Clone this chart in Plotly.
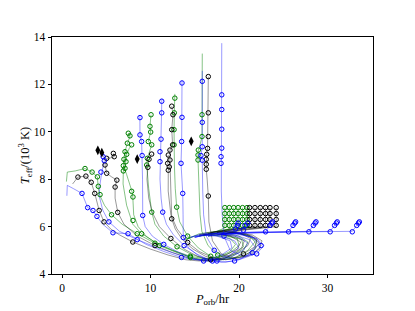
import plotly.graph_objects as go

# ---------------- data ----------------
# Green tracks
g1_P = [0.5, 0.6, 1.5, 2.6, 3.4, 4.0, 4.1, 4.3, 4.8, 5.6, 6.8, 8.5, 10.5, 12.5, 14.5, 16.0, 17.5, 19.0, 19.6, 19.0, 17.0, 15.0, 14.0, 15.5, 17.5, 18.4, 18.4]
g1_T = [7.9, 8.3, 8.35, 8.45, 8.3, 8.1, 7.6, 7.3, 6.9, 6.5, 6.1, 5.7, 5.3, 5.0, 4.75, 4.65, 4.7, 4.95, 5.25, 5.5, 5.65, 5.6, 5.45, 5.7, 5.8, 5.95, 6.8]
g1_mP = [2.6, 3.4, 4.0, 4.1, 4.3, 5.6, 8.5, 10.5, 14.5, 18.4, 18.4, 18.4, 18.4]
g1_mT = [8.45, 8.3, 8.1, 7.7, 7.35, 6.5, 5.7, 5.3, 4.75, 6.05, 6.3, 6.55, 6.8]

g2_P = [7.5, 7.7, 7.4, 7.1, 7.0, 6.95, 7.3, 7.9, 8.0, 8.1, 8.6, 9.5, 11.0, 13.0, 15.0, 16.5, 18.0, 19.5, 20.5, 20.3, 18.5, 16.5, 15.5, 17.5, 18.9, 18.9]
g2_T = [9.94, 9.83, 9.52, 9.16, 8.84, 8.57, 8.2, 7.49, 7.25, 6.5, 6.0, 5.6, 5.2, 4.9, 4.65, 4.55, 4.6, 4.85, 5.15, 5.45, 5.65, 5.7, 5.6, 5.75, 5.9, 6.8]
g2_mP = [7.49, 7.68, 7.38, 7.12, 7.0, 6.93, 7.87, 8.02, 8.02, 11.0, 18.9, 18.9, 18.9, 18.9]
g2_mT = [9.94, 9.83, 9.52, 9.16, 8.84, 8.57, 7.49, 7.25, 6.26, 5.2, 6.05, 6.3, 6.55, 6.8]

g3_P = [7.87, 7.6, 7.31, 7.23, 7.12, 6.93, 6.9, 7.3, 8.0, 9.0, 10.5, 12.5, 14.5, 16.0, 17.5, 19.0, 20.0, 19.8, 18.0, 16.5, 18.0, 19.4, 19.4]
g3_T = [9.45, 9.3, 9.05, 8.74, 8.46, 8.35, 7.8, 6.9, 6.1, 5.7, 5.35, 5.0, 4.7, 4.6, 4.65, 4.9, 5.2, 5.5, 5.65, 5.6, 5.8, 5.95, 6.8]
g3_mP = [7.87, 7.31, 7.23, 7.12, 6.93, 9.0, 14.5, 19.4, 19.4, 19.4, 19.4]
g3_mT = [9.45, 9.05, 8.74, 8.46, 8.35, 5.7, 4.7, 6.05, 6.3, 6.55, 6.8]

g4_P = [10.06, 9.94, 10.02, 9.75, 10.14, 9.9, 9.64, 9.57, 9.8, 10.14, 10.5, 11.5, 13.0, 14.5, 16.0, 17.5, 19.0, 20.5, 21.0, 20.0, 18.0, 16.5, 18.0, 19.9, 19.9]
g4_T = [10.72, 10.23, 9.99, 9.59, 9.45, 9.2, 8.88, 8.6, 7.6, 6.61, 6.1, 5.6, 5.15, 4.85, 4.65, 4.6, 4.7, 5.0, 5.35, 5.6, 5.75, 5.7, 5.85, 5.95, 6.8]
g4_mP = [10.06, 9.94, 10.02, 9.75, 10.14, 9.64, 9.57, 10.14, 13.0, 19.9, 19.9, 19.9, 19.9]
g4_mT = [10.72, 10.23, 9.99, 9.59, 9.45, 8.88, 8.6, 6.61, 5.15, 6.05, 6.3, 6.55, 6.8]

g5_P = [12.75, 12.75, 12.69, 12.66, 12.66, 12.7, 12.8, 12.96, 13.3, 14.2, 15.4, 16.8, 18.2, 19.7, 21.0, 21.8, 21.2, 19.5, 17.8, 19.0, 20.4, 20.4]
g5_T = [11.6, 11.42, 10.8, 10.09, 9.45, 8.6, 7.6, 6.82, 6.2, 5.6, 5.1, 4.75, 4.6, 4.7, 5.0, 5.35, 5.6, 5.75, 5.7, 5.85, 5.95, 6.8]
g5_mP = [12.75, 12.69, 12.66, 12.66, 12.96, 14.2, 16.8, 20.4, 20.4, 20.4, 20.4]
g5_mT = [11.42, 10.8, 10.09, 9.45, 6.82, 5.6, 4.75, 6.05, 6.3, 6.55, 6.8]

g6_P = [15.85, 15.82, 15.82, 15.6, 15.4, 15.37, 15.37, 15.5, 15.6, 15.8, 16.5, 17.6, 19.0, 20.5, 21.8, 22.0, 20.8, 19.0, 18.5, 20.0, 20.9, 20.9]
g6_T = [13.3, 10.72, 9.8, 9.45, 9.23, 9.02, 8.81, 7.5, 6.5, 5.8, 5.2, 4.8, 4.65, 4.75, 5.05, 5.4, 5.65, 5.75, 5.7, 5.85, 5.95, 6.8]
g6_mP = [15.82, 15.82, 15.4, 15.37, 15.37, 17.6, 20.9, 20.9, 20.9, 20.9]
g6_mT = [10.72, 9.8, 9.23, 9.02, 8.81, 4.8, 6.05, 6.3, 6.55, 6.8]

# Black tracks
k1_P = [1.2, 1.8, 2.7, 3.3, 3.7, 4.2, 4.75, 5.5, 6.5, 8.0, 10.0, 12.0, 14.0, 15.5, 17.0, 18.5, 19.8, 20.2, 19.0, 17.0, 15.5, 16.5, 19.0, 21.2, 21.2]
k1_T = [7.8, 8.09, 8.13, 7.87, 7.4, 6.68, 6.2, 5.9, 5.65, 5.35, 5.05, 4.8, 4.6, 4.55, 4.6, 4.8, 5.05, 5.35, 5.6, 5.7, 5.65, 5.75, 5.85, 6.0, 6.8]
k1_mP = [1.8, 2.7, 3.3, 3.7, 4.2, 4.75, 8.0, 21.2, 21.2, 21.2, 21.2]
k1_mT = [8.09, 8.13, 7.87, 7.4, 6.68, 6.2, 5.35, 6.05, 6.3, 6.55, 6.8]

k2_P = [5.8, 5.9, 5.5, 5.05, 4.86, 5.05, 5.6, 6.2, 6.0, 6.0, 6.3, 7.0, 8.5, 10.5, 12.5, 14.5, 16.0, 17.5, 19.0, 20.3, 20.6, 19.5, 17.5, 16.0, 17.5, 20.0, 21.8, 21.8]
k2_T = [9.09, 8.95, 8.9, 8.88, 8.6, 8.25, 8.1, 7.96, 7.67, 7.2, 6.6, 6.1, 5.6, 5.2, 4.9, 4.65, 4.55, 4.6, 4.8, 5.1, 5.4, 5.6, 5.7, 5.65, 5.8, 5.9, 6.0, 6.8]
k2_mP = [5.8, 5.9, 5.05, 4.86, 5.05, 6.2, 6.0, 6.3, 10.5, 21.8, 21.8, 21.8, 21.8]
k2_mT = [9.09, 8.95, 8.88, 8.6, 8.25, 7.96, 7.67, 6.6, 5.2, 6.05, 6.3, 6.55, 6.8]

k3_P = [10.13, 9.83, 9.7, 9.6, 9.8, 10.2, 11.0, 12.3, 13.8, 15.3, 16.8, 18.3, 19.8, 21.0, 21.3, 20.2, 18.3, 16.8, 18.5, 21.0, 22.4, 22.4]
k3_T = [9.06, 8.84, 8.5, 8.0, 7.2, 6.6, 6.0, 5.5, 5.05, 4.75, 4.6, 4.65, 4.9, 5.2, 5.5, 5.7, 5.8, 5.75, 5.85, 5.95, 6.0, 6.8]
k3_mP = [10.13, 9.83, 9.7, 12.3, 16.8, 22.4, 22.4, 22.4, 22.4]
k3_mT = [9.06, 8.84, 8.5, 5.5, 4.6, 6.05, 6.3, 6.55, 6.8]

k4_P = [12.4, 12.54, 12.4, 12.5, 12.2, 12.2, 12.3, 12.4, 12.8, 13.6, 14.8, 16.2, 17.6, 19.0, 20.5, 21.8, 22.0, 20.8, 18.8, 17.5, 19.5, 22.0, 23.0, 23.0]
k4_T = [11.08, 10.72, 10.09, 9.45, 9.23, 8.81, 7.5, 6.33, 5.9, 5.45, 5.05, 4.75, 4.6, 4.62, 4.85, 5.15, 5.45, 5.7, 5.8, 5.75, 5.85, 5.95, 6.0, 6.8]
k4_mP = [12.4, 12.54, 12.4, 12.5, 12.2, 12.2, 12.4, 20.5, 23.0, 23.0, 23.0, 23.0]
k4_mT = [11.08, 10.72, 10.09, 9.45, 9.23, 8.81, 6.33, 4.85, 6.05, 6.3, 6.55, 6.8]

k5_P = [12.01, 11.94, 12.12, 12.01, 12.0, 12.3, 13.0, 14.2, 15.5, 17.0, 18.5, 20.0, 21.5, 22.3, 21.5, 19.5, 18.0, 20.0, 22.5, 23.5, 23.5]
k5_T = [9.02, 8.67, 8.52, 8.38, 7.5, 6.5, 5.9, 5.33, 4.95, 4.7, 4.6, 4.7, 4.95, 5.3, 5.6, 5.75, 5.7, 5.85, 5.95, 6.0, 6.8]
k5_mP = [12.01, 11.94, 12.12, 12.01, 14.2, 23.5, 23.5, 23.5, 23.5]
k5_mT = [9.02, 8.67, 8.52, 8.38, 5.33, 6.05, 6.3, 6.55, 6.8]

k6_P = [16.53, 16.53, 16.53, 16.45, 16.35, 16.3, 16.3, 16.4, 16.53, 16.6, 17.0, 18.0, 19.5, 21.0, 22.3, 22.6, 21.5, 19.5, 18.5, 20.5, 24.2, 24.2]
k6_T = [12.33, 10.8, 9.8, 9.3, 9.05, 8.63, 8.42, 8.0, 7.29, 6.2, 5.4, 4.85, 4.65, 4.75, 5.05, 5.4, 5.65, 5.75, 5.7, 5.85, 6.0, 6.8]
k6_mP = [16.53, 16.53, 16.53, 16.45, 16.35, 16.3, 16.3, 16.3, 16.53, 24.2, 24.2, 24.2, 24.2]
k6_mT = [12.33, 10.8, 9.8, 9.3, 9.05, 8.84, 8.63, 8.42, 7.29, 6.05, 6.3, 6.55, 6.8]

# Blue tracks
b1_P = [0.55, 0.6, 1.3, 2.26, 2.9, 3.5, 3.95, 4.6, 5.76, 7.46, 9.5, 11.5, 13.5, 15.0, 16.5, 18.0, 19.2, 19.0, 17.5, 15.5, 14.5, 16.0, 18.5, 19.6, 19.9]
b1_T = [7.3, 7.74, 7.6, 7.4, 6.8, 6.68, 6.43, 6.1, 5.74, 5.7, 5.25, 4.95, 4.7, 4.6, 4.62, 4.8, 5.1, 5.4, 5.6, 5.65, 5.55, 5.7, 5.75, 5.9, 6.15]
b1_mP = [2.26, 2.9, 3.5, 3.95, 5.76, 7.46, 13.5, 19.6, 19.8, 19.9]
b1_mT = [7.4, 6.8, 6.68, 6.43, 5.74, 5.7, 4.7, 5.9, 6.05, 6.15]

b2_P = [4.6, 4.65, 4.78, 4.5, 4.3, 4.2, 4.6, 5.3, 6.5, 8.5, 10.5, 12.5, 14.5, 16.0, 17.5, 19.0, 20.0, 19.5, 18.0, 16.0, 15.0, 17.0, 19.5, 20.7, 21.0]
b2_T = [9.1, 8.95, 8.78, 8.3, 7.8, 7.3, 6.7, 6.2, 5.8, 5.45, 5.15, 4.9, 4.65, 4.55, 4.6, 4.8, 5.1, 5.4, 5.6, 5.65, 5.55, 5.7, 5.8, 6.0, 6.15]
b2_mP = [4.65, 4.78, 4.4, 5.3, 8.5, 16.0, 20.5, 20.7, 21.0]
b2_mT = [8.95, 8.78, 8.3, 6.2, 5.45, 4.55, 5.85, 6.05, 6.15]

b3_P = [8.8, 8.81, 8.81, 9.0, 9.05, 9.1, 9.12, 9.4, 10.2, 11.5, 13.0, 14.5, 16.0, 17.5, 19.0, 20.5, 21.0, 20.0, 18.0, 16.0, 15.0, 17.0, 20.0, 23.0, 23.5, 23.8]
b3_T = [10.7, 10.6, 9.87, 9.59, 9.0, 8.0, 6.47, 6.0, 5.6, 5.25, 4.95, 4.7, 4.55, 4.55, 4.7, 5.0, 5.3, 5.55, 5.7, 5.65, 5.55, 5.7, 5.75, 5.78, 6.05, 6.2]
b3_mP = [8.81, 8.81, 9.0, 9.05, 9.12, 11.5, 17.5, 23.0, 23.5, 23.7, 23.8]
b3_mT = [10.6, 9.87, 9.59, 9.0, 6.47, 5.25, 4.55, 5.78, 6.05, 6.15, 6.2]

b4_P = [11.3, 11.27, 11.25, 11.19, 11.1, 11.07, 11.07, 11.2, 11.38, 11.8, 12.6, 13.8, 15.2, 16.6, 18.0, 19.5, 21.0, 21.8, 21.2, 19.5, 17.5, 16.5, 19.0, 23.0, 25.6, 26.1, 26.4]
b4_T = [11.4, 11.29, 10.8, 9.69, 9.16, 8.74, 8.0, 7.2, 6.61, 6.1, 5.65, 5.2, 4.85, 4.6, 4.5, 4.55, 4.8, 5.15, 5.45, 5.65, 5.7, 5.6, 5.7, 5.75, 5.78, 6.05, 6.2]
b4_mP = [11.27, 11.27, 11.19, 11.07, 11.07, 11.38, 13.8, 19.5, 25.6, 26.1, 26.3, 26.4]
b4_mT = [11.29, 10.8, 9.69, 9.16, 8.74, 6.61, 5.2, 4.55, 5.78, 6.05, 6.15, 6.2]

b5_P = [13.56, 13.56, 13.56, 13.52, 13.45, 13.55, 13.64, 13.68, 13.7, 14.3, 15.5, 17.0, 18.5, 20.0, 21.5, 22.2, 21.5, 19.5, 17.5, 20.0, 24.0, 27.9, 28.4, 28.7]
b5_T = [12.15, 12.06, 10.61, 9.59, 8.67, 8.0, 7.4, 6.5, 5.54, 5.1, 4.75, 4.55, 4.5, 4.6, 4.9, 5.25, 5.55, 5.7, 5.65, 5.75, 5.78, 5.8, 6.05, 6.2]
b5_mP = [13.56, 13.56, 13.52, 13.45, 13.64, 13.7, 17.0, 21.5, 27.9, 28.4, 28.6, 28.7]
b5_mT = [12.06, 10.61, 9.59, 8.67, 7.4, 5.54, 4.55, 4.9, 5.78, 6.05, 6.15, 6.2]

b6_P = [15.85, 15.85, 15.85, 15.85, 15.7, 15.85, 15.9, 16.0, 16.3, 17.2, 18.5, 20.0, 21.5, 22.5, 22.0, 20.0, 18.0, 21.0, 26.0, 30.3, 30.8, 31.1]
b6_T = [12.57, 12.13, 10.4, 9.37, 9.0, 8.8, 7.5, 6.5, 5.6, 5.0, 4.7, 4.6, 4.8, 5.2, 5.5, 5.7, 5.7, 5.75, 5.78, 5.8, 6.05, 6.2]
b6_mP = [15.85, 15.85, 15.85, 15.7, 15.85, 17.2, 22.5, 30.3, 30.8, 31.0, 31.1]
b6_mT = [12.13, 10.4, 9.37, 9.0, 8.8, 5.0, 5.2, 5.78, 6.05, 6.15, 6.2]

b7_P = [18.05, 18.05, 18.05, 18.05, 18.05, 17.97, 17.97, 18.0, 18.1, 18.3, 19.0, 20.5, 22.0, 22.8, 22.0, 20.0, 19.0, 23.0, 28.0, 32.8, 33.3, 33.6]
b7_T = [13.74, 11.56, 10.94, 10.11, 9.31, 8.95, 8.67, 7.5, 6.5, 5.6, 5.0, 4.75, 4.85, 5.2, 5.5, 5.7, 5.7, 5.75, 5.78, 5.8, 6.05, 6.2]
b7_mP = [18.05, 18.05, 18.05, 18.05, 17.97, 17.97, 18.3, 22.0, 32.8, 33.3, 33.5, 33.6]
b7_mT = [11.56, 10.94, 10.11, 9.31, 8.95, 8.67, 5.6, 4.85, 5.78, 6.05, 6.15, 6.2]

# Black diamond markers
dia_P = [4.05, 4.5, 8.5, 14.6]
dia_T = [9.22, 9.12, 8.85, 9.6]

# tick labels
x_ticks = [0, 10, 20, 30]
y_ticks = [4, 6, 8, 10, 12, 14]

# ---------------- figure ----------------
tracks = [
    (g1_P, g1_T, g1_mP, g1_mT, "green"), (g2_P, g2_T, g2_mP, g2_mT, "green"),
    (g3_P, g3_T, g3_mP, g3_mT, "green"), (g4_P, g4_T, g4_mP, g4_mT, "green"),
    (g5_P, g5_T, g5_mP, g5_mT, "green"), (g6_P, g6_T, g6_mP, g6_mT, "green"),
    (k1_P, k1_T, k1_mP, k1_mT, "black"), (k2_P, k2_T, k2_mP, k2_mT, "black"),
    (k3_P, k3_T, k3_mP, k3_mT, "black"), (k4_P, k4_T, k4_mP, k4_mT, "black"),
    (k5_P, k5_T, k5_mP, k5_mT, "black"), (k6_P, k6_T, k6_mP, k6_mT, "black"),
    (b1_P, b1_T, b1_mP, b1_mT, "blue"), (b2_P, b2_T, b2_mP, b2_mT, "blue"),
    (b3_P, b3_T, b3_mP, b3_mT, "blue"), (b4_P, b4_T, b4_mP, b4_mT, "blue"),
    (b5_P, b5_T, b5_mP, b5_mT, "blue"), (b6_P, b6_T, b6_mP, b6_mT, "blue"),
    (b7_P, b7_T, b7_mP, b7_mT, "blue"),
]
line_col = {"green": "rgba(0,128,0,0.6)", "black": "rgba(0,0,0,0.5)", "blue": "rgba(0,0,255,0.5)"}
mark_col = {"green": "#008000", "black": "#000000", "blue": "#0000ff"}

fig = go.Figure()
for P, T, mP, mT, c in tracks:
    fig.add_trace(go.Scatter(x=P, y=T, mode="lines", line=dict(color=line_col[c], width=0.8),
                             showlegend=False, hoverinfo="skip"))
for P, T, mP, mT, c in tracks:
    fig.add_trace(go.Scatter(x=mP, y=mT, mode="markers",
                             marker=dict(symbol="circle-open", size=4.5, color=mark_col[c],
                                         line=dict(width=1.0, color=mark_col[c])),
                             showlegend=False, hoverinfo="skip"))
fig.add_trace(go.Scatter(x=dia_P, y=dia_T, mode="markers",
                         marker=dict(symbol="diamond-tall", size=7, color="black"),
                         showlegend=False, hoverinfo="skip"))

font_family = "Liberation Serif, DejaVu Serif, serif"
# The page body adds an 8 px offset, so the margins are shifted to compensate.
fig.update_layout(
    width=415, height=311,
    margin=dict(l=44, r=50, t=29, b=45, autoexpand=False),
    paper_bgcolor="white", plot_bgcolor="white",
    font=dict(family=font_family, size=11.5, color="black"),
)
fig.update_xaxes(range=[-1.13, 35.14], tickvals=x_ticks, ticktext=[str(v) for v in x_ticks],
                 automargin=False,
                 showgrid=False, zeroline=False, showline=True, linecolor="black", linewidth=0.9,
                 mirror=True, ticks="outside", ticklen=3.5, tickwidth=0.8, tickcolor="black",
                 title=dict(text="<i>P</i><sub>orb</sub>/hr", standoff=0,
                            font=dict(family=font_family, size=12.5)))
fig.update_yaxes(range=[4, 14], tickvals=y_ticks, ticktext=[str(v) for v in y_ticks],
                 automargin=False,
                 showgrid=False, zeroline=False, showline=True, linecolor="black", linewidth=0.9,
                 mirror=True, ticks="outside", ticklen=3.5, tickwidth=0.8, tickcolor="black",
                 title=dict(text="<i>T</i><sub>eff</sub>/(10<sup>3</sup> K)", standoff=0,
                            font=dict(family=font_family, size=12.5)))

fig.write_html("out.html")
